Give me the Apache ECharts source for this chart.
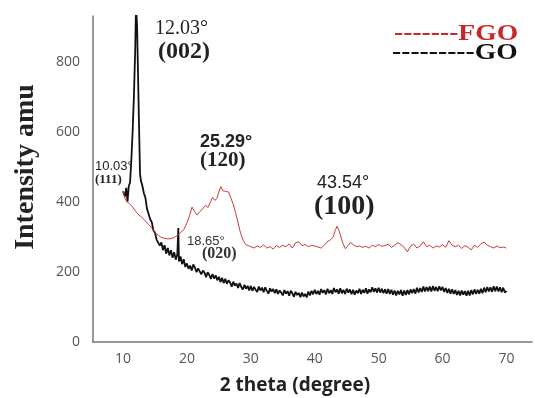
<!DOCTYPE html>
<html>
<head>
<meta charset="utf-8">
<script src="https://cdn.jsdelivr.net/npm/echarts@6/dist/echarts.min.js"></script>
<style>
  html, body { margin: 0; padding: 0; background: #fff; }
  #chart { width: 535px; height: 398px; }
</style>
</head>
<body>
<div id="chart"></div>
<script>
// XRD patterns
const goAngle = [
  10.0, 10.3, 10.5, 10.7, 10.9, 11.1, 11.3, 11.5, 11.7, 11.9, 12.03, 12.2, 12.35, 12.5, 12.66, 12.8,
  13.0, 13.25, 13.5, 13.75, 14.0, 14.25, 14.5, 14.75, 15.0, 15.25, 15.5, 15.75, 16.0, 16.25, 16.5, 16.75,
  17.0, 17.25, 17.5, 17.75, 18.0, 18.25, 18.5, 18.65, 18.75, 19.0, 19.25, 19.5, 19.75,
  20, 20.25, 20.5, 20.75, 21, 21.25, 21.5, 21.75,
  22, 22.25, 22.5, 22.75, 23, 23.25, 23.5, 23.75,
  24, 24.25, 24.5, 24.75, 25, 25.25, 25.5, 25.75,
  26, 26.25, 26.5, 26.75, 27, 27.25, 27.5, 27.75,
  28, 28.25, 28.5, 28.75, 29, 29.25, 29.5, 29.75,
  30, 30.25, 30.5, 30.75, 31, 31.25, 31.5, 31.75,
  32, 32.25, 32.5, 32.75, 33, 33.25, 33.5, 33.75,
  34, 34.25, 34.5, 34.75, 35, 35.25, 35.5, 35.75,
  36, 36.25, 36.5, 36.75, 37, 37.25, 37.5, 37.75,
  38, 38.25, 38.5, 38.75, 39, 39.25, 39.5, 39.75,
  40, 40.25, 40.5, 40.75, 41, 41.25, 41.5, 41.75,
  42, 42.25, 42.5, 42.75, 43, 43.25, 43.5, 43.75,
  44, 44.25, 44.5, 44.75, 45, 45.25, 45.5, 45.75,
  46, 46.25, 46.5, 46.75, 47, 47.25, 47.5, 47.75,
  48, 48.25, 48.5, 48.75, 49, 49.25, 49.5, 49.75,
  50, 50.25, 50.5, 50.75, 51, 51.25, 51.5, 51.75,
  52, 52.25, 52.5, 52.75, 53, 53.25, 53.5, 53.75,
  54, 54.25, 54.5, 54.75, 55, 55.25, 55.5, 55.75,
  56, 56.25, 56.5, 56.75, 57, 57.25, 57.5, 57.75,
  58, 58.25, 58.5, 58.75, 59, 59.25, 59.5, 59.75,
  60, 60.25, 60.5, 60.75, 61, 61.25, 61.5, 61.75,
  62, 62.25, 62.5, 62.75, 63, 63.25, 63.5, 63.75,
  64, 64.25, 64.5, 64.75, 65, 65.25, 65.5, 65.75,
  66, 66.25, 66.5, 66.75, 67, 67.25, 67.5, 67.75,
  68, 68.25, 68.5, 68.75, 69, 69.25, 69.5, 69.75,
  70
];
const goIntensity = [
  430, 415, 440, 400, 445, 455, 520, 600, 700, 830, 960, 900, 760, 620, 480, 460,
  448, 425, 412, 380, 378, 350, 342, 318, 312, 292, 296, 275, 284, 262, 276, 252,
  268, 247, 262, 240, 256, 235, 250, 325, 230, 244, 222, 236, 214,
  224, 209, 218, 204, 221, 212, 199, 210,
  207, 193, 204, 198, 185, 199, 191, 180,
  194, 181, 190, 176, 186, 171, 183, 168,
  180, 166, 176, 170, 158, 172, 161, 167,
  154, 168, 157, 150, 163, 152, 160, 147,
  160, 146, 157, 149, 143, 158, 147, 155,
  142, 156, 146, 138, 153, 144, 151, 139,
  150, 137, 147, 141, 133, 148, 138, 145,
  132, 146, 139, 129, 143, 134, 140, 128,
  141, 130, 137, 127, 144, 133, 146, 136,
  149, 137, 146, 135, 151, 140, 148, 136,
  152, 139, 148, 137, 154, 142, 150, 138,
  153, 139, 149, 137, 152, 141, 150, 136,
  149, 135, 147, 139, 152, 137, 149, 140,
  153, 138, 150, 142, 156, 143, 153, 141,
  155, 141, 152, 139, 150, 138, 151, 137,
  149, 135, 147, 133, 146, 136, 148, 132,
  147, 134, 148, 136, 150, 139, 151, 138,
  155, 141, 154, 143, 158, 144, 157, 145,
  158, 144, 160, 146, 157, 145, 159, 147,
  157, 143, 154, 140, 152, 138, 150, 137,
  148, 134, 146, 133, 147, 135, 145, 132,
  146, 133, 148, 136, 150, 137, 149, 138,
  152, 139, 155, 142, 157, 144, 156, 143,
  159, 145, 158, 144, 156, 142, 155, 141,
  146
];

const fgoAngle = [
  10.0, 10.3, 10.6, 11.0, 11.5, 12.0, 12.5, 13.0, 13.5, 14.0, 14.5, 15.0, 15.5, 16.0, 16.5, 17.0, 17.5,
  18.0, 18.5, 19.0, 19.5, 20.0, 20.4, 20.8, 21.2, 21.6, 22.0, 22.5, 22.9, 23.3, 23.7, 24.0, 24.4, 24.7,
  25.0, 25.3, 25.6, 26.0, 26.5, 26.9, 27.2, 27.6, 28.0, 28.4, 28.8, 29.2, 29.6, 30.0,
  30.5, 31, 31.5, 32, 32.5, 33, 33.5, 34, 34.5, 35, 35.5, 36, 36.5, 37, 37.5, 38, 38.5, 39, 39.5, 40,
  40.5, 41, 41.3, 41.7, 42.1, 42.5, 42.9, 43.2, 43.5, 43.8, 44.1, 44.4, 44.8, 45.2, 45.6, 46, 46.5, 47,
  47.5, 48, 48.5, 49, 49.5, 50, 50.5, 51, 51.5, 52, 52.5, 53, 53.5, 54, 54.5, 55, 55.5, 56, 56.5, 57,
  57.5, 58, 58.5, 59, 59.5, 60, 60.5, 61, 61.5, 62, 62.5, 63, 63.5, 64, 64.5, 65, 65.5, 66, 66.5, 67,
  67.5, 68, 68.5, 69, 69.5, 70
];
const fgoIntensity = [
  430, 410, 400, 395, 385, 372, 362, 355, 345, 335, 325, 312, 305, 298, 296, 294, 295,
  298, 304, 312, 320, 340, 360, 385, 372, 362, 372, 380, 390, 384, 400, 412, 404, 410,
  428, 443, 432, 430, 428, 410, 395, 370, 340, 310, 290, 278, 275, 272,
  268, 274, 270, 277, 268, 272, 265, 275, 270, 276, 272, 280, 268, 283, 286, 275, 278, 272, 276, 274,
  271, 268, 265, 280, 288, 292, 300, 318, 330, 318, 300, 282, 266, 275, 284, 278, 272, 274,
  270, 273, 268, 276, 272, 278, 273, 275, 279, 270, 276, 283, 278, 270, 257, 274, 279, 268, 274, 286,
  272, 276, 268, 274, 271, 278, 270, 289, 276, 272, 276, 267, 275, 270, 263, 276, 270, 280, 285, 276,
  272, 268, 274, 269, 271, 268
];

const xTickLabels = [10, 20, 30, 40, 50, 60, 70];

const chart = echarts.init(document.getElementById('chart'), null, { renderer: 'canvas' });

const serif = '"Liberation Serif", "DejaVu Serif", serif';
const sans = '"Liberation Sans", Arial, sans-serif';
const tickFont = '"Open Sans", sans-serif';

// small helper for the free-standing labels of the figure
function label(text, x, y, font, fill, extra) {
  return Object.assign({
    type: 'text', x: x, y: y,
    style: { text: text, font: font, fill: fill || '#222', verticalAlign: 'middle' }
  }, extra || {});
}

const option = {
  backgroundColor: '#fff',
  animation: false,
  grid: { left: 93, right: 3, top: 16, bottom: 56 },
  xAxis: {
    type: 'value',
    min: 5.3,
    max: 74,
    axisLine: { lineStyle: { color: '#777', width: 1.5 } },
    axisTick: { show: false },
    splitLine: { show: false },
    axisLabel: {
      customValues: xTickLabels,
      color: '#555',
      fontFamily: tickFont,
      fontSize: 14,
      margin: 10
    }
  },
  yAxis: {
    type: 'value',
    min: 0,
    max: 930,
    interval: 200,
    axisLine: { show: true, lineStyle: { color: '#777', width: 1.5 } },
    axisTick: { show: false },
    splitLine: { show: false },
    axisLabel: {
      showMaxLabel: false,
      color: '#555',
      fontFamily: tickFont,
      fontSize: 14,
      margin: 13
    }
  },
  series: [
    {
      name: 'FGO',
      type: 'line',
      showSymbol: false,
      clip: true,
      lineStyle: { color: '#d03a3a', width: 1 },
      data: fgoAngle.map((a, i) => [a, fgoIntensity[i]]),
      z: 3
    },
    {
      name: 'GO',
      type: 'line',
      showSymbol: false,
      clip: true,
      lineStyle: { color: '#111', width: 1.8 },
      data: goAngle.map((a, i) => [a, goIntensity[i]]),
      z: 2
    }
  ],
  graphic: [
    // axis titles
    {
      type: 'text', x: 26, y: 167, rotation: Math.PI / 2,
      style: { text: 'Intensity amu', font: 'bold 28px ' + serif, fill: '#222', align: 'center', verticalAlign: 'middle' }
    },
    {
      type: 'text', x: 295, y: 386,
      style: { text: '2 theta (degree)', font: 'bold 19px ' + tickFont, fill: '#222', align: 'center', verticalAlign: 'middle' }
    },
    // legend drawn as text, as in the original figure
    label('-------FGO', 394, 34, 'bold 23px ' + serif, '#c82828', { scaleX: 1.2 }),
    label('---------GO', 392, 53, 'bold 23px ' + serif, '#111', { scaleX: 1.2 }),
    // peak annotations
    label('12.03°', 155, 29, '20px ' + serif),
    label('(002)', 158, 52, 'bold 24px ' + serif),
    label('10.03°', 95, 166, '13px ' + sans),
    label('(111)', 95, 180, 'bold 13px ' + serif),
    label('25.29°', 200, 142, 'bold 18px ' + sans),
    label('(120)', 200, 161, 'bold 21px ' + serif),
    label('43.54°', 317, 183, '18px ' + sans),
    label('(100)', 314, 207, 'bold 28px ' + serif),
    label('18.65°', 187, 241, '13px ' + sans, '#333'),
    label('(020)', 202, 254, 'bold 16px ' + serif, '#333')
  ]
};

chart.setOption(option);
</script>
</body>
</html>
